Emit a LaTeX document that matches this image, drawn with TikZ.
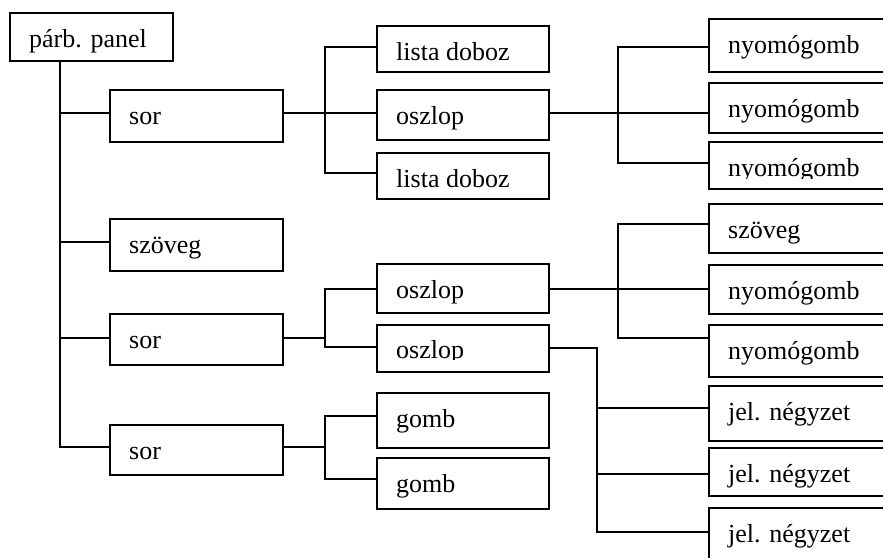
\documentclass[tikz,border=0pt]{standalone}
\usepackage{fontspec}
\setmainfont{Liberation Serif}
\begin{document}
\begin{tikzpicture}[x=1pt,y=-1pt,
  boxstyle/.style={draw, line width=1.5pt, inner sep=0pt, anchor=north west},
  lbl/.style={anchor=base west, inner sep=0pt, font=\fontsize{26}{30}\selectfont},
  conn/.style={line width=1.5pt}]
\useasboundingbox (0,0) rectangle (883,557);
\clip (0,0) rectangle (883,557);

% box: name, left, top, width, height, label
\newcommand\mkbox[6]{%
  \node[boxstyle, minimum width=#4pt, minimum height=#5pt] (#1) at (#2,#3) {};
  \node[lbl] (#1-t) at ([xshift=20pt,yshift=-35pt]#1.north west) {#6};}
\newcommand\mkframe[5]{%
  \node[boxstyle, minimum width=#4pt, minimum height=#5pt] (#1) at (#2,#3) {};}

% junction columns
\coordinate (j1) at (60,0);
\coordinate (j2) at (325,0);
\coordinate (j3) at (618,0);
\coordinate (j4) at (597,0);

% level 0
\mkbox{root}{9}{12}{163}{48}{párb. panel}
% level 1
\mkbox{sorA}{109}{89}{173}{52}{sor}
\mkbox{szovegA}{109}{218}{173}{52}{szöveg}
\mkbox{sorB}{109}{313}{173}{51}{sor}
\mkbox{sorC}{109}{424}{173}{50}{sor}
% level 2
\mkbox{listaA}{376}{25}{172}{46}{lista doboz}
\mkbox{oszlopA}{376}{89}{172}{50}{oszlop}
\mkbox{listaB}{376}{152}{172}{46}{lista doboz}
\mkbox{oszlopB}{376}{263}{172}{49}{oszlop}
\mkframe{oszlopC}{376}{324}{172}{47}
\begin{scope}
  \clip (oszlopC.north west) rectangle ([yshift=-35pt]oszlopC.north east);
  \node[lbl] (oszlopC-t) at ([xshift=20pt,yshift=-34pt]oszlopC.north west) {oszlop};
\end{scope}
\mkbox{gombA}{376}{392}{172}{55}{gomb}
\mkbox{gombB}{376}{457}{172}{51}{gomb}
% level 3
\mkbox{nyA}{708}{18}{200}{53}{nyomógomb}
\mkbox{nyB}{708}{82}{200}{50}{nyomógomb}
\mkframe{nyC}{708}{141}{200}{47}
\begin{scope}
  \clip (nyC.north west) rectangle ([yshift=-37pt]nyC.north east);
  \node[lbl] (nyC-t) at ([xshift=20pt,yshift=-35pt]nyC.north west) {nyomógomb};
\end{scope}
\mkbox{szovegB}{708}{203}{200}{49}{szöveg}
\mkbox{nyD}{708}{264}{200}{49}{nyomógomb}
\mkbox{nyE}{708}{324}{200}{52}{nyomógomb}
\mkbox{jelA}{708}{385}{200}{55}{jel. négyzet}
\mkbox{jelB}{708}{447}{200}{48}{jel. négyzet}
\mkbox{jelC}{708}{507}{200}{60}{jel. négyzet}

% connectors
\draw[conn] (root.south -| j1) |- (sorC.west |- 0,447);
\draw[conn] (j1 |- 0,113) -- (sorA.west |- 0,113);
\draw[conn] (j1 |- 0,242) -- (szovegA.west |- 0,242);
\draw[conn] (j1 |- 0,338) -- (sorB.west |- 0,338);

\draw[conn] (sorA.east |- 0,113) -- (oszlopA.west |- 0,113);
\draw[conn] (listaA.west |- 0,47) -| (j2 |- 0,173) -- (listaB.west |- 0,173);
\draw[conn] (oszlopA.east |- 0,113) -- (nyB.west |- 0,113);
\draw[conn] (nyA.west |- 0,47) -| (j3 |- 0,163) -- (nyC.west |- 0,163);

\draw[conn] (sorB.east |- 0,338) -- (j2 |- 0,338);
\draw[conn] (oszlopB.west |- 0,289) -| (j2 |- 0,347) -- (oszlopC.west |- 0,347);
\draw[conn] (oszlopB.east |- 0,289) -- (nyD.west |- 0,289);
\draw[conn] (szovegB.west |- 0,224) -| (j3 |- 0,338) -- (nyE.west |- 0,338);

\draw[conn] (oszlopC.east |- 0,348) -| (j4 |- 0,532) -- (jelC.west |- 0,532);
\draw[conn] (j4 |- 0,408) -- (jelA.west |- 0,408);
\draw[conn] (j4 |- 0,474) -- (jelB.west |- 0,474);

\draw[conn] (sorC.east |- 0,447) -- (j2 |- 0,447);
\draw[conn] (gombA.west |- 0,416) -| (j2 |- 0,479) -- (gombB.west |- 0,479);
\end{tikzpicture}
\end{document}
